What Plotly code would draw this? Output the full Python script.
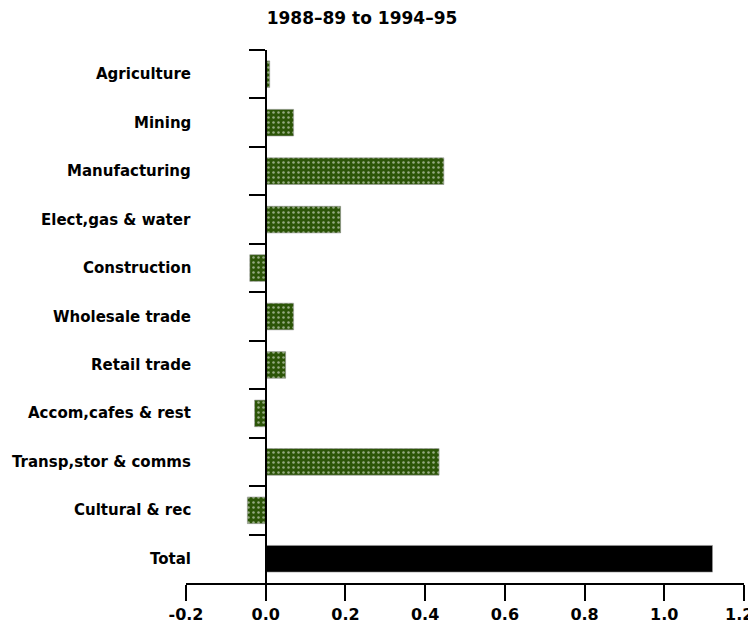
import plotly.graph_objects as go

categories = ["Agriculture", "Mining", "Manufacturing", "Elect,gas & water",
              "Construction", "Wholesale trade", "Retail trade",
              "Accom,cafes & rest", "Transp,stor & comms", "Cultural & rec", "Total"]
values = [0.01, 0.07, 0.447, 0.188, -0.04, 0.07, 0.05, -0.028, 0.435, -0.046, 1.121]
x_ticks = [-0.2, 0.0, 0.2, 0.4, 0.6, 0.8, 1.0, 1.2]
x_tick_labels = ["-0.2", "0.0", "0.2", "0.4", "0.6", "0.8", "1.0", "1.2"]
title_text = "1988–89 to 1994–95"

X_MIN, X_MAX = -0.2, 1.2
FONT = "DejaVu Sans"
PAGE_OFFSET = 8  # default body margin of the html page

W, H = 756 - PAGE_OFFSET, 624 - PAGE_OFFSET
M_L, M_R, M_T, M_B = 186 - PAGE_OFFSET, 12, 50 - PAGE_OFFSET, 41
PLOT_W, PLOT_H = W - M_L - M_R, H - M_T - M_B

green = "#2c5507"
colors = [green] * (len(categories) - 1) + ["#000000"]
patterns = ["."] * (len(categories) - 1) + [""]

fig = go.Figure()
fig.add_trace(go.Bar(
    y=categories, x=values, orientation="h", width=0.55,
    marker=dict(color=colors,
                line=dict(color="#9a9a9a", width=0.6),
                pattern=dict(shape=patterns, fgcolor="#5e5a22", size=5, solidity=0.2)),
    showlegend=False,
))

for c in categories:
    fig.add_annotation(x=(193 - 186) / PLOT_W, xref="paper", y=c, yref="y", text=c,
                       showarrow=False, xanchor="right",
                       font=dict(family=FONT, size=15, color="black", weight="bold"))

# last tick label sits at the right edge of the page: keep it fully visible
tick_font = dict(family=FONT, size=16, color="black", weight="bold")
fig.add_annotation(x=(755 - PAGE_OFFSET - M_L) / PLOT_W, xref="paper",
                   y=-(614 - 583) / PLOT_H, yref="paper", text=x_tick_labels[-1],
                   showarrow=False, xanchor="right", yanchor="middle", font=tick_font)

fig.update_layout(
    width=W, height=H,
    margin=dict(l=M_L, r=M_R, t=M_T, b=M_B),
    plot_bgcolor="white", paper_bgcolor="white",
    title=dict(text=title_text, x=(362 - PAGE_OFFSET) / W, xanchor="center",
               y=1 - (18 - PAGE_OFFSET) / H, yanchor="middle",
               font=dict(family=FONT, size=17, color="black", weight="bold")),
)
fig.update_xaxes(
    range=[X_MIN, X_MAX], tickvals=x_ticks, ticktext=x_tick_labels[:-1] + [""],
    showgrid=False, zeroline=False, automargin=False,
    showline=True, linecolor="black", linewidth=2,
    ticks="outside", ticklen=16, tickwidth=2, tickcolor="black",
    tickfont=tick_font,
)
fig.update_yaxes(
    categoryorder="array", categoryarray=categories,
    range=[len(categories) - 0.5, -0.5],
    anchor="free", position=(0 - X_MIN) / (X_MAX - X_MIN),
    showline=True, linecolor="black", linewidth=2, automargin=False,
    ticks="outside", tickson="boundaries", ticklen=16, tickwidth=2, tickcolor="black",
    showticklabels=False, showgrid=False, zeroline=False,
)

fig.write_html("out.html")
